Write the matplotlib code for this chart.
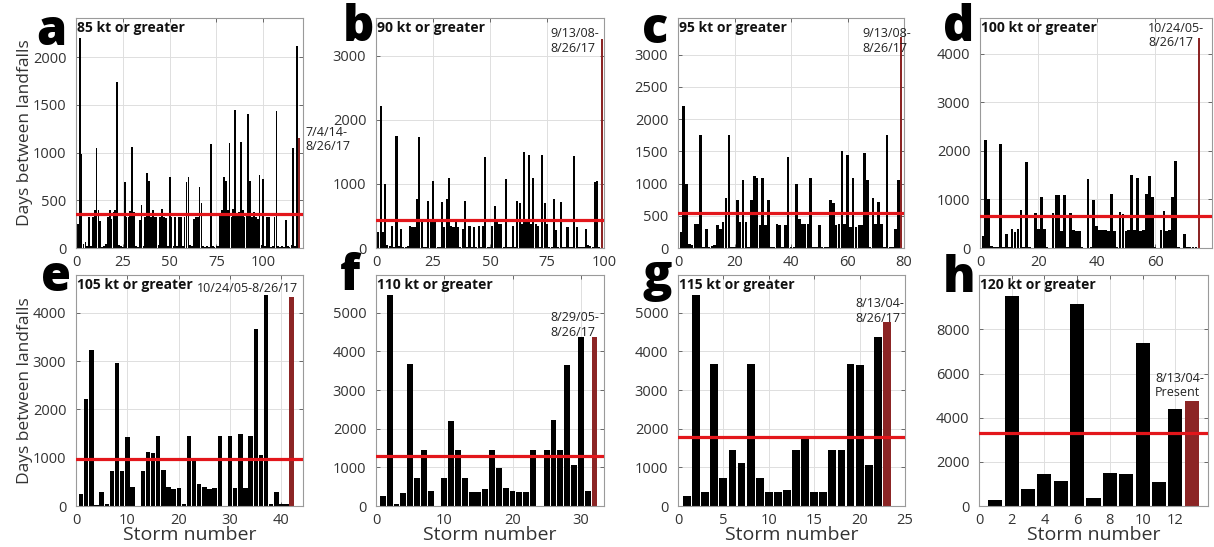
import numpy as np
import matplotlib.pyplot as plt

plt.rcParams['font.family'] = ['Open Sans', 'DejaVu Sans']

# days between landfalls (black bars); last storm is the red bar
vals_a = [250, 2200, 990, 40, 60, 20, 330, 20, 330, 400, 1050, 400, 280, 10, 20, 40, 330, 400, 300, 380,
          400, 1740, 30, 20, 10, 690, 330, 330, 390, 1060, 380, 20, 10, 290, 450, 20, 330, 790, 700, 330,
          400, 330, 330, 30, 330, 410, 330, 310, 20, 740, 330, 20, 330, 20, 330, 330, 20, 330, 690, 740,
          30, 20, 300, 330, 330, 640, 470, 20, 10, 20, 10, 1090, 20, 10, 20, 20, 360, 400, 740, 700,
          400, 1100, 330, 410, 1450, 360, 380, 1110, 400, 330, 360, 1400, 700, 330, 380, 330, 300, 770, 30, 720,
          20, 330, 330, 10, 20, 330, 1440, 20, 10, 20, 10, 290, 20, 10, 30, 1050, 20, 2120]
vals_b = [250, 2220, 250, 1000, 50, 30, 350, 20, 1750, 30, 290, 20, 10, 30, 350, 320, 330, 770, 1740, 400,
          20, 10, 740, 400, 1050, 400, 20, 10, 720, 330, 770, 1100, 350, 330, 420, 330, 20, 300, 740, 20,
          340, 10, 330, 10, 340, 20, 350, 1420, 20, 10, 350, 660, 450, 380, 370, 20, 1080, 10, 20, 350,
          20, 740, 700, 380, 1500, 400, 1450, 380, 1100, 380, 350, 20, 1450, 700, 380, 20, 10, 770, 280, 20,
          720, 20, 10, 330, 20, 10, 1430, 330, 20, 10, 20, 290, 50, 30, 20, 1030, 1040, 20]
vals_c = [250, 2200, 1000, 60, 40, 380, 380, 1750, 20, 290, 10, 30, 50, 350, 300, 400, 770, 1750, 20, 10,
          740, 400, 1050, 400, 20, 740, 1110, 1090, 350, 1090, 350, 740, 20, 10, 380, 350, 20, 350, 1420, 20,
          10, 990, 450, 380, 370, 380, 1090, 20, 20, 350, 20, 10, 20, 740, 700, 350, 380, 1500, 380, 1450,
          330, 1090, 330, 350, 350, 1470, 1060, 20, 770, 380, 720, 380, 20, 1750, 20, 10, 290, 1050]
vals_d = [250, 2230, 1020, 50, 30, 20, 2140, 20, 280, 20, 400, 330, 400, 780, 20, 1770, 20, 10, 730, 400,
          1050, 400, 20, 10, 730, 1100, 1100, 350, 1100, 20, 730, 380, 350, 350, 20, 10, 1430, 20, 990, 450,
          380, 370, 380, 350, 1120, 350, 20, 740, 700, 350, 380, 1500, 380, 1450, 350, 380, 1110, 1480, 1060, 20,
          10, 380, 770, 350, 380, 1060, 1800, 20, 10, 290, 30, 30, 20, 20]
vals_e = [250, 2220, 3230, 30, 280, 50, 730, 2950, 730, 1420, 400, 0, 730, 1110, 1100, 1450, 750, 400, 350, 380,
          40, 1450, 980, 450, 390, 350, 380, 1450, 0, 1440, 380, 1500, 380, 1450, 3660, 1060, 4370, 50, 300, 50,
          50]
vals_f = [250, 5450, 50, 330, 3670, 730, 1440, 400, 0, 730, 2210, 1460, 730, 370, 350, 430, 1460, 990, 470, 380,
          350, 370, 1460, 0, 1440, 2220, 1450, 3660, 1060, 4370, 400]
vals_g = [250, 5450, 370, 3680, 730, 1440, 1110, 3680, 730, 370, 350, 420, 1460, 1770, 350, 370, 1460, 1440,
          3680, 3660, 1060, 4380]
vals_h = [290, 9500, 760, 1450, 1130, 9150, 380, 1500, 1450, 7370, 1070, 4400]

red_vals = [1150, 3270, 3270, 4320, 4320, 4380, 4760, 4780]
means = [360, 430, 550, 650, 980, 1300, 1790, 3330]

letters = ['a', 'b', 'c', 'd', 'e', 'f', 'g', 'h']
titles = ['85 kt or greater', '90 kt or greater', '95 kt or greater', '100 kt or greater',
          '105 kt or greater', '110 kt or greater', '115 kt or greater', '120 kt or greater']
dates = ['7/4/14-\n8/26/17', '9/13/08-\n8/26/17', '9/13/08-\n8/26/17', '10/24/05-\n8/26/17',
         '10/24/05-8/26/17', '8/29/05-\n8/26/17', '8/13/04-\n8/26/17', '8/13/04-\nPresent']
xticks = [[0, 25, 50, 75, 100], [0, 25, 50, 75, 100], [0, 20, 40, 60, 80], [0, 20, 40, 60],
          [0, 10, 20, 30, 40], [0, 10, 20, 30], [0, 5, 10, 15, 20, 25], [0, 2, 4, 6, 8, 10, 12]]
yticks = [[0, 500, 1000, 1500, 2000], [0, 1000, 2000, 3000], [0, 500, 1000, 1500, 2000, 2500, 3000],
          [0, 1000, 2000, 3000, 4000], [0, 1000, 2000, 3000, 4000], [0, 1000, 2000, 3000, 4000, 5000],
          [0, 1000, 2000, 3000, 4000, 5000], [0, 2000, 4000, 6000, 8000]]
xmax = [121.2, 100, 80, 79.5, 44.2, 33.4, 25, 14]
ymax = [2410, 3590, 3570, 4740, 4780, 5975, 5975, 10470]
all_vals = [vals_a, vals_b, vals_c, vals_d, vals_e, vals_f, vals_g, vals_h]

W, H = 1214, 547
# axes boxes in pixels (left, top, right, bottom)
boxes = [(76, 18, 303, 248), (376, 18, 604, 248), (678, 18, 904, 248), (980, 18, 1212, 248),
         (76, 275, 303, 506), (376, 275, 604, 506), (678, 275, 905, 506), (979, 275, 1208, 506)]
letter_pos = [(67, 45), (374, 41), (668, 43), (974, 41), (71, 291), (360, 290), (672, 290), (975, 292)]
date_pos = [(305, 126), (550, 27), (862, 27), (1148, 22),
            (197, 282), (550, 311), (855, 297), (1155, 372)]

red = '#8c2525'
mean_col = '#e3161b'
txt = '#333333'

fig = plt.figure(figsize=(W / 100, H / 100), dpi=100)

for i in range(8):
    l, t, r, b = boxes[i]
    ax = fig.add_axes([l / W, 1 - b / H, (r - l) / W, (b - t) / H])
    v = all_vals[i]
    x = np.arange(1, len(v) + 1)
    w = 0.92 if i < 4 else 0.86
    ax.bar(x, v, width=w, color='black', linewidth=0, zorder=2)
    ax.bar(len(v) + 1, red_vals[i], width=w, color=red, linewidth=0, zorder=2)
    ax.axhline(means[i], color=mean_col, lw=2.3, zorder=3)
    ax.set_xlim(0, xmax[i])
    ax.set_ylim(0, ymax[i])
    ax.set_xticks(xticks[i])
    ax.set_yticks(yticks[i])
    ax.grid(True, color='#dedede', lw=0.7, zorder=0)
    ax.set_axisbelow(True)
    ax.tick_params(direction='in', top=True, right=True, length=3, width=0.6,
                   labelsize=10.5, labelcolor=txt, color='#555555')
    ax.tick_params(axis='y', pad=7)
    ax.tick_params(axis='x', pad=5)
    for s in ax.spines.values():
        s.set_color('#9a9a9a')
        s.set_linewidth(0.8)
    ax.text(0.006, 0.985, titles[i], transform=ax.transAxes, ha='left', va='top',
            fontsize=10, fontweight='bold', color='#111111')
    if i in (0, 4):
        ax.set_ylabel('Days between landfalls', fontsize=12.5, color=txt)
        ax.yaxis.set_label_coords(-43 / (r - l), 0.5)
    if i >= 4:
        ax.set_xlabel('Storm number', fontsize=14, color=txt)
        ax.xaxis.set_label_coords(0.5, -20 / (b - t))
    lx, ly = letter_pos[i]
    fig.text(lx / W, 1 - ly / H, letters[i], ha='right', va='baseline', fontsize=35,
             fontweight='heavy', color='black')
    dx, dy = date_pos[i]
    fig.text(dx / W, 1 - dy / H, dates[i], ha='left', va='top', fontsize=9, color='#222222',
             linespacing=1.15)

fig.savefig('out.png', dpi=100, facecolor='white')
